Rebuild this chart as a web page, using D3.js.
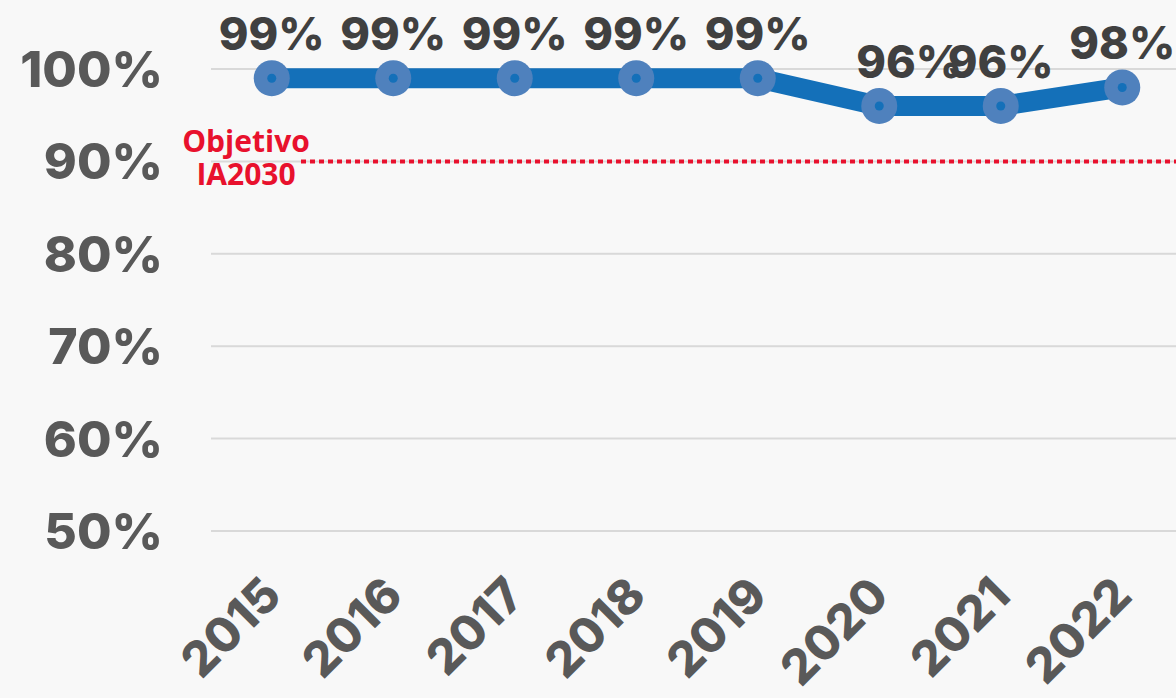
<meta charset="utf-8">
<style>
  body { margin: 0; background: #f8f8f8; }
  svg { display: block; }
</style>
<svg width="1176" height="698"></svg>
<script src="https://d3js.org/d3.v7.min.js"></script>
<script>
var years = ["2015", "2016", "2017", "2018", "2019", "2020", "2021", "2022"];
var coverage = [99, 99, 99, 99, 99, 96, 96, 98];
var yTicks = [50, 60, 70, 80, 90, 100];
var target = 90;
var targetLabel = ["Objetivo", "IA2030"];

var svg = d3.select("svg"),
    width = +svg.attr("width"),
    height = +svg.attr("height");

svg.append("rect").attr("width", width).attr("height", height).attr("fill", "#f8f8f8");

var x = d3.scalePoint()
    .domain(years)
    .range([211, 1183])
    .padding(0.5);

var y = d3.scaleLinear()
    .domain([50, 100])
    .range([531, 69]);

// grid
svg.append("g")
  .selectAll("line")
  .data(yTicks)
  .enter().append("line")
    .attr("x1", 211)
    .attr("x2", width)
    .attr("y1", function(d) { return y(d); })
    .attr("y2", function(d) { return y(d); })
    .attr("stroke", "#d9d9d9")
    .attr("stroke-width", 2);

// y labels
svg.append("g")
  .selectAll("text")
  .data(yTicks)
  .enter().append("text")
    .attr("x", 163)
    .attr("y", function(d) { return y(d) + 18; })
    .attr("text-anchor", "end")
    .attr("font-family", "Inter")
    .attr("font-weight", 800)
    .attr("font-size", "50px")
    .attr("fill", "#595959")
    .text(function(d) { return d + "%"; });

// x labels
svg.append("g")
  .selectAll("text")
  .data(years)
  .enter().append("text")
    .attr("transform", function(d) { return "translate(" + (x(d) + 12) + ",598) rotate(-45)"; })
    .attr("text-anchor", "end")
    .attr("font-family", "Inter")
    .attr("font-weight", 800)
    .attr("font-size", "48px")
    .attr("fill", "#595959")
    .text(function(d) { return d; });

// target line
svg.append("line")
    .attr("x1", 301)
    .attr("x2", width)
    .attr("y1", y(target))
    .attr("y2", y(target))
    .attr("stroke", "#e8112d")
    .attr("stroke-width", 4)
    .attr("stroke-dasharray", "5,4");

svg.append("g")
  .selectAll("text")
  .data(targetLabel)
  .enter().append("text")
    .attr("x", 246)
    .attr("y", function(d, i) { return 152 + i * 33; })
    .attr("text-anchor", "middle")
    .attr("font-family", "Open Sans")
    .attr("font-weight", 700)
    .attr("font-size", "30px")
    .attr("fill", "#e8112d")
    .text(function(d) { return d; });

// line
var pts = years.map(function(d, i) { return { year: d, value: coverage[i] }; });

var line = d3.line()
    .x(function(d) { return x(d.year); })
    .y(function(d) { return y(d.value); });

svg.append("path")
    .datum(pts)
    .attr("d", line)
    .attr("fill", "none")
    .attr("stroke", "#1470b9")
    .attr("stroke-width", 20)
    .attr("stroke-linejoin", "round");

svg.append("g")
  .selectAll("circle")
  .data(pts)
  .enter().append("circle")
    .attr("cx", function(d) { return x(d.year); })
    .attr("cy", function(d) { return y(d.value); })
    .attr("r", 18)
    .attr("fill", "#4f81bd");

svg.append("g")
  .selectAll("circle")
  .data(pts)
  .enter().append("circle")
    .attr("cx", function(d) { return x(d.year); })
    .attr("cy", function(d) { return y(d.value); })
    .attr("r", 4.5)
    .attr("fill", "#1470b9");

// the 2020 label sits nudged right in the original
svg.append("g")
  .selectAll("text")
  .data(pts)
  .enter().append("text")
    .attr("x", function(d) { return x(d.year) + (d.year === "2020" ? 30 : 0); })
    .attr("y", function(d) { return y(d.value) - 28; })
    .attr("text-anchor", "middle")
    .attr("font-family", "Inter")
    .attr("font-weight", 800)
    .attr("font-size", "45px")
    .attr("fill", "#404040")
    .text(function(d) { return d.value + "%"; });
</script>
